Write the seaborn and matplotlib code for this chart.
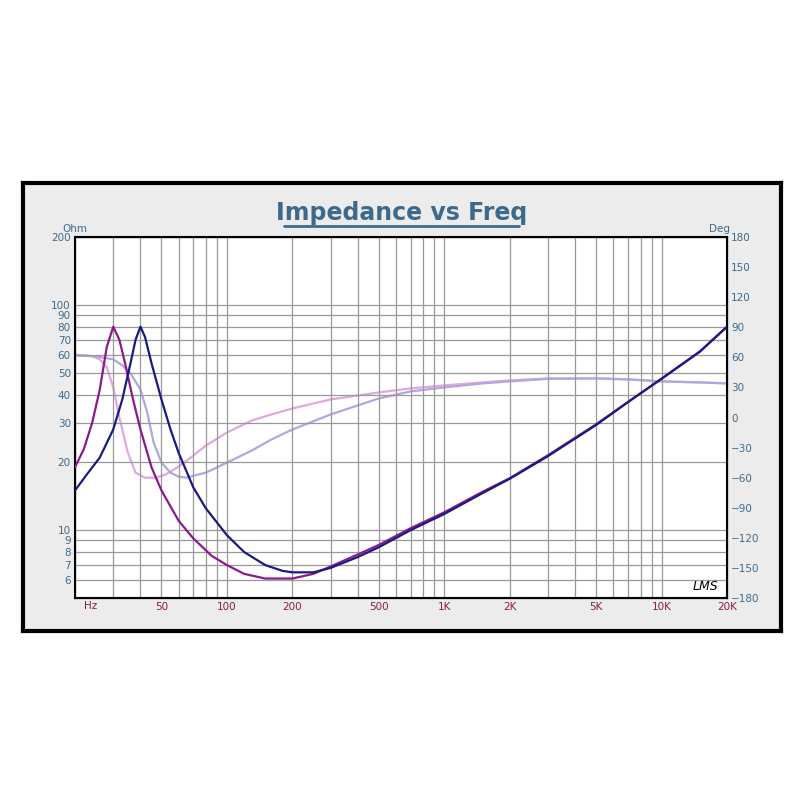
import numpy as np
import matplotlib
matplotlib.use("Agg")
import matplotlib.pyplot as plt
import seaborn as sns
from matplotlib.ticker import FixedLocator, NullFormatter

sns.set_style("white")
plt.rcParams['font.family'] = ['DejaVu Sans']

freq_a = [20, 22, 24, 26, 28, 30, 32, 34, 37, 40, 45, 50, 60, 70, 85, 100, 120, 150, 200, 250, 300, 400, 500, 700, 1000, 1500, 2000, 3000, 5000, 7000, 10000, 15000, 20000]
imp_a = [19, 23, 30, 42, 65, 80, 70, 55, 38, 28, 19, 15, 11, 9.2, 7.7, 7.0, 6.4, 6.1, 6.1, 6.4, 6.9, 7.8, 8.6, 10.2, 12.0, 14.8, 17.0, 21.5, 29.5, 37, 47, 62, 80]
freq_b = [20, 23, 26, 30, 33, 36, 38, 40, 42, 45, 50, 55, 60, 70, 80, 100, 120, 150, 180, 200, 250, 300, 400, 500, 700, 1000, 1500, 2000, 3000, 5000, 7000, 10000, 15000, 20000]
imp_b = [15, 18, 21, 28, 38, 55, 70, 80, 72, 55, 38, 28, 22, 15.5, 12.5, 9.5, 8.0, 7.0, 6.6, 6.5, 6.5, 6.8, 7.6, 8.4, 10.0, 11.8, 14.6, 16.9, 21.3, 29.3, 37, 47, 62, 80]
freq_p = [20, 22, 24, 26, 28, 30, 32, 35, 38, 42, 47, 52, 60, 70, 80, 100, 130, 160, 200, 300, 500, 700, 1000, 1500, 2000, 3000, 5000, 7000, 10000, 15000, 20000]
phase_a = [62, 62, 61, 58, 50, 30, 0, -35, -55, -60, -60, -57, -49, -38, -28, -15, -3, 3, 9, 18, 25, 29, 32, 35, 37, 39, 39, 38, 36, 35, 34]
freq_q = [20, 25, 30, 33, 36, 40, 43, 46, 50, 55, 60, 65, 80, 100, 130, 160, 200, 300, 500, 700, 1000, 1500, 2000, 3000, 5000, 7000, 10000, 15000, 20000]
phase_b = [62, 61, 58, 52, 44, 28, 5, -25, -45, -55, -59, -60, -55, -45, -33, -22, -12, 3, 19, 26, 30, 34, 36, 38.5, 39, 38, 36, 35, 34]

xticks = [50, 100, 200, 500, 1000, 2000, 5000, 10000, 20000]
xlabels = ["50", "100", "200", "500", "1K", "2K", "5K", "10K", "20K"]
yticks = [6, 7, 8, 9, 10, 20, 30, 40, 50, 60, 70, 80, 90, 100, 200]
rticks = list(range(-180, 181, 30))

fig = plt.figure(figsize=(8.04, 8.0), dpi=100)
fig.patch.set_facecolor("white")
bg = fig.add_axes([23/804, 1-631/800, 758/804, 448/800], zorder=-5)
bg.set_facecolor("#ececec")
bg.set_xticks([]); bg.set_yticks([])
for s in bg.spines.values():
    s.set_color("black"); s.set_linewidth(3)

wb = fig.add_axes([75/804, 1-598/800, 652/804, 361/800], zorder=0)
wb.set_facecolor("white"); wb.set_xticks([]); wb.set_yticks([])

ax = fig.add_axes([75/804, 1-598/800, 652/804, 361/800])
ax.set_xscale("log"); ax.set_yscale("log")
ax.set_xlim(20, 20000); ax.set_ylim(5, 200)

blue = "#3d6a8c"; red = "#8b1a4a"
sns.lineplot(x=freq_a, y=imp_a, ax=ax, color="#8b1a8b", linewidth=1.6, sort=False, zorder=5)
sns.lineplot(x=freq_b, y=imp_b, ax=ax, color="#1a1a80", linewidth=1.6, sort=False, zorder=5)

ax.xaxis.set_major_locator(FixedLocator(xticks))
ax.set_xticklabels(xlabels)
ax.xaxis.set_minor_locator(FixedLocator([m * 10**e for e in range(1, 5) for m in range(2, 10)]))
ax.xaxis.set_minor_formatter(NullFormatter())
ax.yaxis.set_major_locator(FixedLocator(yticks))
ax.set_yticklabels([str(v) for v in yticks])
ax.yaxis.set_minor_locator(FixedLocator([]))
ax.yaxis.set_minor_formatter(NullFormatter())
ax.grid(True, which="both", color="#999999", linewidth=0.9)
ax.tick_params(axis="both", which="both", length=0, labelsize=7.5, pad=3)
ax.tick_params(axis="x", colors=red); ax.tick_params(axis="y", colors=blue)
for s in ax.spines.values():
    s.set_color("black"); s.set_linewidth(1.5)
ax.set_ylabel("")

ax2 = ax.twinx()
ax2.set_ylim(-180, 180)
sns.lineplot(x=freq_p, y=phase_a, ax=ax2, color="#e0a8e0", linewidth=1.6, sort=False)
sns.lineplot(x=freq_q, y=phase_b, ax=ax2, color="#b0a8dc", linewidth=1.6, sort=False)
ax2.set_yticks(rticks)
ax2.tick_params(axis="y", length=0, labelsize=7.5, colors=blue, pad=3)
ax2.set_ylabel("")
ax2.set_zorder(1); ax2.patch.set_visible(False)
ax.set_zorder(2); ax.patch.set_visible(False)

fig.text(75/804, 1-229/800, "Ohm", ha="center", va="center", fontsize=7.5, color=blue)
fig.text(720/804, 1-229/800, "Deg", ha="center", va="center", fontsize=7.5, color=blue)
fig.text(91/804, 1-606/800, "Hz", ha="center", va="center", fontsize=7.5, color=red)
fig.text(402/804, 1-213/800, "Impedance vs Freq", ha="center", va="center", fontsize=17,
         color=blue, fontweight="bold")
fig.lines.append(plt.Line2D([284/804, 519/804], [1-226/800, 1-226/800], transform=fig.transFigure, color=blue, linewidth=2))
fig.text(705/804, 1-586/800, "LMS", ha="center", va="center", fontsize=9, style="italic", color="black")

fig.savefig("out.png", dpi=100)
